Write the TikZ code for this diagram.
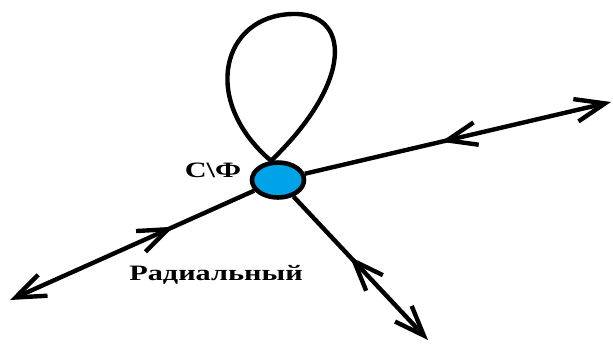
\documentclass[tikz,border=0pt]{standalone}
\usepackage{fontspec}
\setmainfont{Liberation Serif}
\usepackage{graphicx}
\usepackage{tikz}
\usetikzlibrary{arrows.meta,positioning,shapes,decorations.markings}
\definecolor{hub}{HTML}{00A2E8}
\newcommand{\widetext}[1]{\scalebox{1.38}[1]{#1}}

\begin{document}
\begin{tikzpicture}[
    x=0.02cm, y=-0.02cm,
    hubnode/.style={ellipse, draw=black, fill=hub, line width=2.6pt, minimum width=1.04cm, minimum height=0.7cm, inner sep=0pt},
    lbl/.style={font=\fontsize{12.5}{14}\selectfont\bfseries},
    edge/.style={line width=2.5pt, -{Straight Barb[length=17pt, width=13pt, line width=2.5pt]}},
    loopline/.style={line width=2.5pt},
    midback/.style={postaction={decorate}, decoration={markings, mark=at position #1 with {\arrowreversed{Straight Barb[length=17pt, width=13pt, line width=2.5pt]}}}}
]
\useasboundingbox (0,0) rectangle (613,343);

% Hub
\node[hubnode] (c) at (278,180) {};

% Labels
\node[lbl] (name) at (213,170) {\widetext{С\textbackslash Ф}};
\node[lbl] (kind) at (216,275) {\widetext{Радиальный}};

% Line ends
\coordinate (e1) at (611,102);
\coordinate (e2) at (10,300);
\coordinate (e3) at (428,340);

% Loop
\draw[loopline] (c.110) .. controls (200,100) and (222,16) .. (292,14)
    .. controls (350,12) and (355,80) .. (c.110);

% Arrows
\draw[edge, midback=0.445] (c) -- (e1);
\draw[edge, midback=0.33] (c) -- (e2);
\draw[edge, midback=0.42] (c) -- (e3);

\end{tikzpicture}
\end{document}
